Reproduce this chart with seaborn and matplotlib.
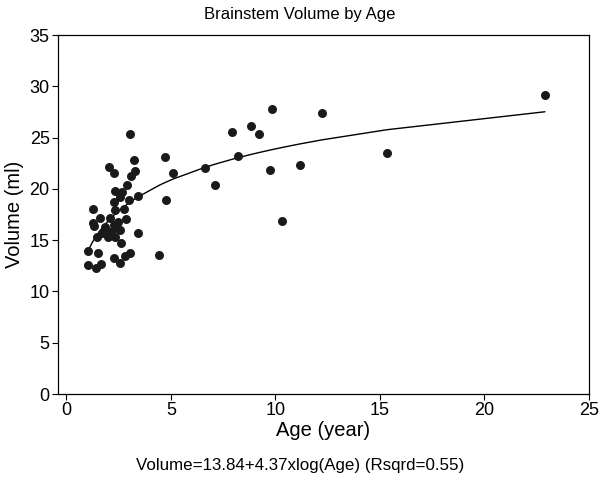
import numpy as np
import pandas as pd
import matplotlib
matplotlib.use("Agg")
import matplotlib.pyplot as plt
import seaborn as sns

age = [22.89, 12.25, 9.83, 8.84, 9.22, 7.92, 8.23, 6.64, 7.12, 9.75, 11.16, 15.34,
       10.32, 4.73, 5.11, 4.76, 4.44,
       3.06, 3.25, 2.02, 2.26, 3.30, 3.11, 2.90, 2.34, 2.66, 2.58, 2.98, 3.42,
       2.26, 1.26, 2.34, 2.74, 1.59, 2.07, 2.85, 1.26, 1.30, 2.47, 1.86, 2.26,
       2.55, 2.10, 1.71, 1.47, 2.34, 1.99, 3.41, 2.63, 1.04, 1.51, 2.26, 2.82,
       3.03, 2.58, 1.04, 1.66, 1.42, 2.34]
volume = [29.2, 27.36, 27.75, 26.15, 25.4, 25.5, 23.2, 22.06, 20.37, 21.83, 22.35, 23.49,
          16.86, 23.13, 21.54, 18.9, 13.6,
          25.4, 22.8, 22.15, 21.57, 21.73, 21.25, 20.37, 19.8, 19.7, 19.23, 18.9, 19.3,
          18.74, 18.0, 17.93, 18.0, 17.18, 17.12, 17.09, 16.64, 16.37, 16.8, 16.3, 16.47,
          15.98, 15.8, 15.66, 15.33, 15.33, 15.33, 15.66, 14.75, 13.94, 13.71, 13.23, 13.45,
          13.71, 12.74, 12.57, 12.67, 12.25, 16.15]

intercept = 13.84
slope = 4.37

title = "Brainstem Volume by Age"
xlabel = "Age (year)"
ylabel = "Volume (ml)"
footnote = "Volume=13.84+4.37xlog(Age) (Rsqrd=0.55)"

sns.set_theme(style="white")
plt.rcParams['font.family'] = ['Liberation Sans', 'DejaVu Sans']

df = pd.DataFrame({"age": age, "volume": volume})
fit = pd.DataFrame({"age": np.sort(np.array(age))})
fit["volume"] = intercept + slope * np.log(fit["age"])

fig = plt.figure(figsize=(6, 4.8), dpi=100)
ax = fig.add_axes([0.0967, 0.179, 0.885, 0.748])

sns.lineplot(data=fit, x="age", y="volume", ax=ax, color="black", linewidth=1.0,
             sort=True, estimator=None)
sns.scatterplot(data=df, x="age", y="volume", ax=ax, color="#1a1a1a", s=42,
                edgecolor="#1a1a1a", linewidth=0, zorder=3)

ax.set_xlim(-0.4, 25)
ax.set_ylim(0, 35)
ax.set_xticks([0, 5, 10, 15, 20, 25])
ax.set_yticks([0, 5, 10, 15, 20, 25, 30, 35])
ax.tick_params(axis="both", which="major", labelsize=13, length=4, width=0.8,
               color="black", labelcolor="black", direction="out",
               bottom=True, left=True, top=False, right=False, pad=2)
for s in ax.spines.values():
    s.set_color("black")
    s.set_linewidth(0.9)

ax.set_xlabel(xlabel, fontsize=14.5, color="black", labelpad=1)
ax.set_ylabel(ylabel, fontsize=14.5, color="black", labelpad=4)
fig.text(0.5, 0.97, title, ha="center", va="center", fontsize=12, color="black")
fig.text(0.5, 0.031, footnote, ha="center", va="center", fontsize=12.2, color="black")

fig.savefig("out.png", dpi=100)
